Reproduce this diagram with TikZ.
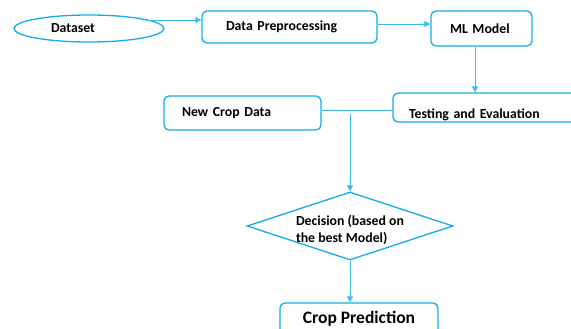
\documentclass[tikz,border=0pt]{standalone}
\usepackage{fontspec}
\setmainfont{Carlito}
\usetikzlibrary{shapes.geometric,arrows.meta}
\definecolor{cblue}{HTML}{12ACE8}
\definecolor{lblue}{HTML}{3CBDF0}
\tikzset{
  txt/.style={font=\bfseries\fontsize{13.8}{16}\selectfont},
  box/.style={draw=cblue, line width=1.3pt, rounded corners=5pt, txt, align=left, inner ysep=0pt},
  conn/.style={draw=lblue, line width=0.9pt},
  arr/.style={conn, -{Triangle[length=6pt,width=6pt]}}
}
\begin{document}
\begin{tikzpicture}[x=1pt,y=-1pt]
\useasboundingbox (0,0) rectangle (571,329);
\node[draw=cblue, line width=1.3pt, ellipse, inner sep=0pt, minimum width=150pt, minimum height=27pt, txt] (data) at (89,28.5) {Dataset\hspace*{32pt}};
\node[box, inner xsep=24pt, text width=127pt, minimum height=32pt] (prep) at (289.5,27) {Data Preprocessing};
\node[box, inner xsep=19pt, text width=63pt, minimum height=35pt] (ml) at (481.5,28.5) {ML Model};
\node[box, inner xsep=16pt, text width=175pt, minimum height=29pt] (test) at (496.5,107.5) {\smash{\raisebox{-10.5pt}{Testing and Evaluation}}};
\node[box, inner xsep=18pt, text width=121pt, minimum height=34pt] (newc) at (242.5,113) {New Crop Data};
\node[draw=cblue, line width=1.3pt, diamond, inner sep=0pt, minimum width=206pt, minimum height=68pt, font=\bfseries\fontsize{13.8}{17.6}\selectfont] (dec) at (350,226) {\smash{\makebox[0pt]{\raisebox{-8pt}{\begin{tabular}{@{}l@{}}Decision (based on\\the best Model)\end{tabular}}}}};
\node[box, align=center, inner xsep=0pt, minimum width=158pt, minimum height=32pt, font=\bfseries\fontsize{17.5}{20}\selectfont] (crop) at (359,319) {Crop Prediction};
\coordinate (j) at (350,110);
\coordinate (js) at (350,114);
\draw[arr] (data.8) -- (data.8 -| prep.west);
\draw[arr] ([yshift=3pt]prep.east) -- ([yshift=3pt]prep.east -| ml.west);
\draw[arr] ([xshift=-6.5pt]ml.south) -- ([xshift=-6.5pt]ml.south |- test.north);
\draw[conn] (newc.east |- j) -- (test.west |- j);
\draw[arr] (js) -- (dec.north);
\draw[arr] (dec.south) -- (dec.south |- crop.north);
\end{tikzpicture}
\end{document}
